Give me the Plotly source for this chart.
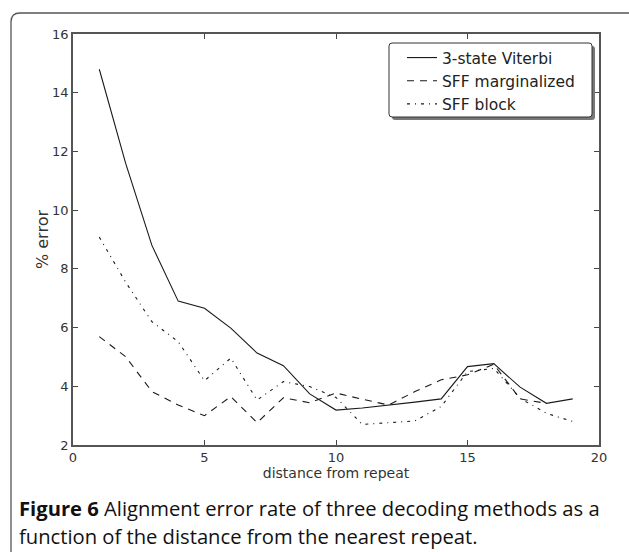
import plotly.graph_objects as go

# ---- data ----
distance = list(range(1, 20))
viterbi = [14.8, 11.6, 8.8, 6.9, 6.66, 5.98, 5.13, 4.70, 3.74, 3.19,
           3.26, 3.35, 3.46, 3.57, 4.67, 4.77, 3.97, 3.42, 3.57]
sff_marg_x = list(range(1, 19))
sff_marg = [5.69, 5.01, 3.82, 3.36, 3.00, 3.65, 2.76, 3.61, 3.44, 3.77,
            3.56, 3.36, 3.82, 4.22, 4.39, 4.75, 3.57, 3.42]
sff_block = [9.08, 7.55, 6.20, 5.52, 4.19, 4.96, 3.53, 4.16, 3.99, 3.62,
             2.70, 2.76, 2.82, 3.31, 4.50, 4.61, 3.59, 3.08, 2.80]
series_names = ["3-state Viterbi", "SFF marginalized", "SFF block"]
x_ticks = [0, 5, 10, 15, 20]
y_ticks = [2, 4, 6, 8, 10, 12, 14, 16]

W, H = 629, 552
L, R, T, B = 73, 30, 34, 107
PW, PH = W - L - R, H - T - B

def px(xp):
    return (xp - L) / PW

def py(yp):
    return (H - B - yp) / PH

line_col = "#1a1a1a"
fig = go.Figure()
fig.add_trace(go.Scatter(x=distance, y=viterbi, mode="lines", name=series_names[0],
                         line=dict(color=line_col, width=1.1)))
fig.add_trace(go.Scatter(x=sff_marg_x, y=sff_marg, mode="lines", name=series_names[1],
                         line=dict(color=line_col, width=1.1, dash="7px,6px")))
fig.add_trace(go.Scatter(x=distance, y=sff_block, mode="lines", name=series_names[2],
                         line=dict(color=line_col, width=1.1, dash="3px,5px,1px,5px")))

axis_common = dict(showgrid=False, zeroline=False, showline=True, linecolor="#555",
                   linewidth=1.5, mirror="allticks", ticks="inside", ticklen=5,
                   tickcolor="#444", tickwidth=1,
                   tickfont=dict(family="DejaVu Sans", size=13, color="#333"))
fig.update_xaxes(range=[0, 20], tickvals=x_ticks, **axis_common,
                 title=dict(text="distance from repeat", standoff=4,
                            font=dict(family="DejaVu Sans", size=14, color="#333")))
fig.update_yaxes(range=[2, 16], tickvals=y_ticks, **axis_common,
                 title=dict(text="% error", standoff=0,
                            font=dict(family="DejaVu Sans", size=16, color="#333")))

# outer rounded frame
xl, yt = px(11), py(13)
xr, yb = px(640), py(560)
rx, ry = 9 / PW, 9 / PH
frame = (f"M {xl},{yb} L {xl},{yt - ry} Q {xl},{yt} {xl + rx},{yt} L {xr},{yt}")

# legend box (rounded with shadow)
def rrect(x0p, y0p, x1p, y1p, r):
    a0, a1 = px(x0p), px(x1p)
    b0, b1 = py(y0p), py(y1p)  # b0 top, b1 bottom
    dx, dy = r / PW, r / PH
    return (f"M {a0 + dx},{b0} L {a1 - dx},{b0} Q {a1},{b0} {a1},{b0 - dy} "
            f"L {a1},{b1 + dy} Q {a1},{b1} {a1 - dx},{b1} L {a0 + dx},{b1} "
            f"Q {a0},{b1} {a0},{b1 + dy} L {a0},{b0 - dy} Q {a0},{b0} {a0 + dx},{b0} Z")

shapes = [
    dict(type="path", xref="paper", yref="paper", path=frame,
         line=dict(color="#555", width=1.3)),
    dict(type="path", xref="paper", yref="paper", path=rrect(392, 46, 595, 120, 3),
         fillcolor="#777", line=dict(width=0), layer="above"),
    dict(type="path", xref="paper", yref="paper", path=rrect(389, 43, 592, 117, 3),
         fillcolor="white", line=dict(color="#333", width=1), layer="above"),
]

annotations = [
    dict(text="<b>Figure 6</b> Alignment error rate of three decoding methods as a",
         xref="paper", yref="paper", x=px(17), y=py(508), xanchor="left", yanchor="middle",
         showarrow=False, font=dict(family="Open Sans", size=20.2, color="#111")),
    dict(text="function of the distance from the nearest repeat.",
         xref="paper", yref="paper", x=px(17), y=py(536), xanchor="left", yanchor="middle",
         showarrow=False, font=dict(family="Open Sans", size=20.2, color="#111")),
]

fig.update_layout(
    width=W, height=H, margin=dict(l=L, r=R, t=T, b=B, autoexpand=False),
    paper_bgcolor="white", plot_bgcolor="white", shapes=shapes, annotations=annotations,
    legend=dict(x=px(402), y=py(41), xanchor="left", yanchor="top", itemwidth=30,
                bgcolor="rgba(0,0,0,0)", borderwidth=0, tracegroupgap=0,
                font=dict(family="DejaVu Sans", size=15.5, color="#222")),
)

fig.write_html("out.html", config={"displayModeBar": False},
               post_script="document.body.style.margin='0';document.body.style.overflow='hidden';")
